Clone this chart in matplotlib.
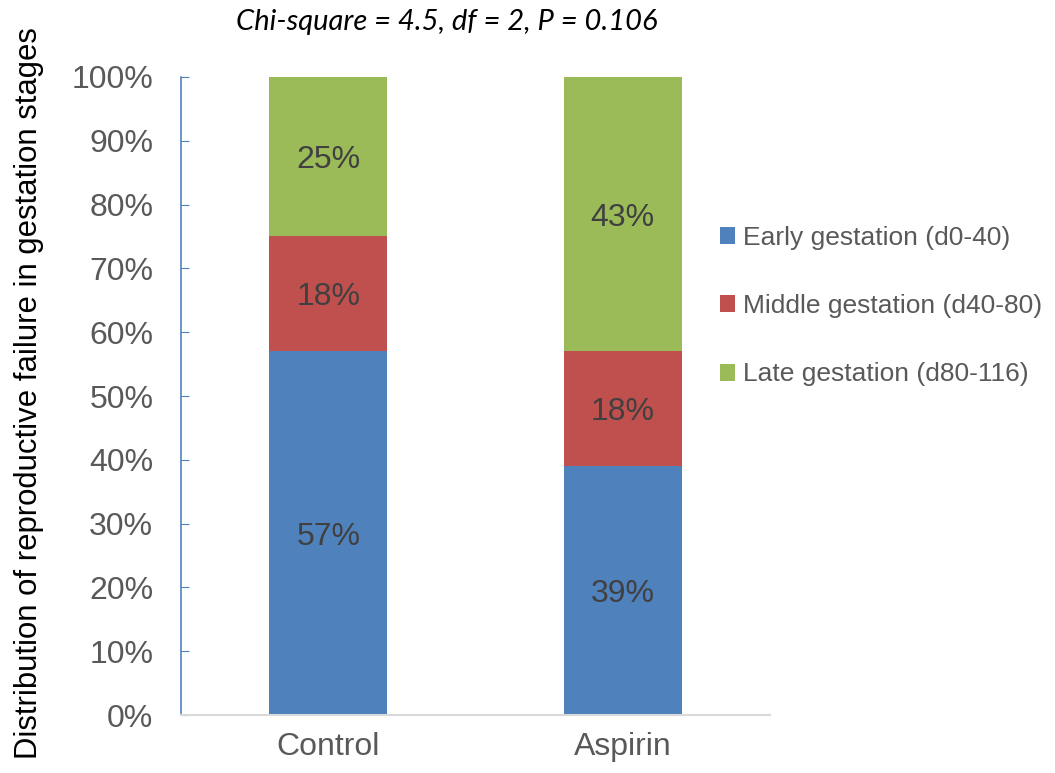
import numpy as np
import matplotlib
matplotlib.use("Agg")
import matplotlib.pyplot as plt
from matplotlib.ticker import PercentFormatter

# stacked shares of reproductive failure per gestation stage (%)
groups = ["Control", "Aspirin"]
stages = ["Early gestation (d0-40)", "Middle gestation (d40-80)", "Late gestation (d80-116)"]
early = [57, 39]
middle = [18, 18]
late = [25, 43]
colors = ["#4F81BD", "#C0504D", "#9BBB59"]

plt.rcParams["font.family"] = ["Liberation Sans", "DejaVu Sans"]

fig = plt.figure(figsize=(10.55, 7.73), dpi=100)
ax = fig.add_axes([0.1716, 0.075, 0.5583, 0.8254])

x = np.arange(len(groups))
bottom = np.zeros(len(groups))
handles = []
for vals, col, name in zip([early, middle, late], colors, stages):
    bars = ax.bar(x, vals, 0.4, bottom=bottom, color=col, label=name)
    handles.append(bars)
    for xi, b, v in zip(x, bottom, vals):
        ax.text(xi, b + v / 2, f"{v}%", ha="center", va="center_baseline",
                fontsize=23, color="#404040")
    bottom += np.array(vals)

ax.set_xlim(-0.5, 1.5)
ax.set_ylim(0, 100)
ax.set_yticks(np.arange(0, 101, 10))
ax.yaxis.set_major_formatter(PercentFormatter(decimals=0))
ax.set_xticks(x)
ax.set_xticklabels(groups)
ax.tick_params(axis="y", direction="in", length=6, color="#4F81BD",
               labelsize=23, labelcolor="#595959", pad=20)
ax.tick_params(axis="x", length=0, labelsize=23, labelcolor="#595959", pad=12)

for s in ["top", "right"]:
    ax.spines[s].set_visible(False)
ax.spines["left"].set_color("#4F81BD")
ax.spines["left"].set_linewidth(1.2)
ax.spines["bottom"].set_color("#D9D9D9")
ax.spines["bottom"].set_linewidth(1.5)

ax.set_ylabel("Distribution of reproductive failure in gestation stages",
              fontsize=22.4, color="black")
ax.yaxis.set_label_coords(-0.232, 0.505)

fig.text(0.423, 0.971, "Chi-square = 4.5, df = 2, P = 0.106", ha="center",
         va="center", fontsize=21, style="italic", family=["Lato", "DejaVu Sans"])

fig.legend(handles=handles, loc="center left", bbox_to_anchor=(0.682, 0.604),
           frameon=False, fontsize=19, labelcolor="#595959",
           handlelength=0.6, handleheight=0.6, handletextpad=0.3,
           labelspacing=1.68, borderaxespad=0, borderpad=0)

fig.savefig("out.png", dpi=100)
